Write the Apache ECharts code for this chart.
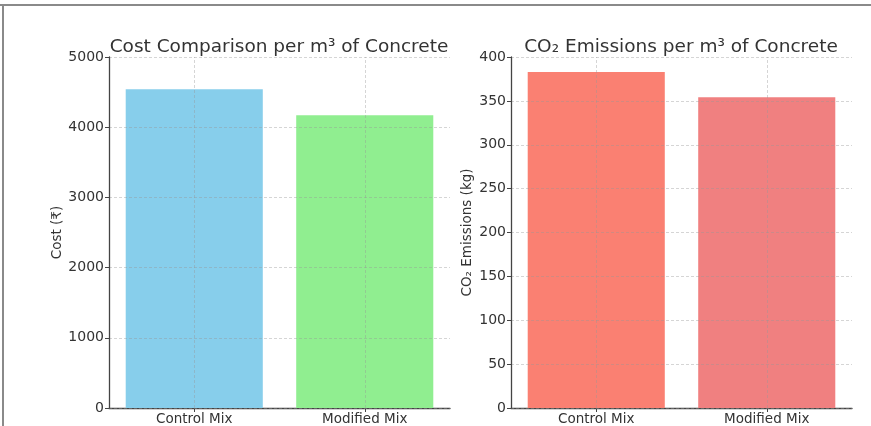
<!DOCTYPE html>
<html>
<head>
<meta charset="utf-8">
<script src="https://cdn.jsdelivr.net/npm/echarts@6/dist/echarts.min.js"></script>
<style>
  html, body { margin: 0; padding: 0; background: #fff; }
  #chart { width: 871px; height: 426px; }
</style>
</head>
<body>
<div id="chart"></div>
<script>
// Mix types compared in both panels
const mixes = ['Control Mix', 'Modified Mix'];
// Cost per cubic metre (₹)
const costValues = [4540, 4170];
// CO₂ emitted per cubic metre (kg)
const co2Values = [383, 354];
const costColors = ['#87CEEB', '#90EE90'];
const co2Colors = ['#FA8072', '#F08080'];

const font = 'DejaVu Sans, Verdana, sans-serif';
const textColor = '#333';

function yAxisDef(gridIndex, max, interval, name, gap) {
  return {
    type: 'value', gridIndex, min: 0, max, interval, z: 3,
    name, nameLocation: 'middle', nameGap: gap, nameRotate: 90,
    nameTextStyle: { fontFamily: font, fontSize: 13.5, color: textColor },
    axisLine: { show: true, lineStyle: { color: '#444', width: 1.3 } },
    axisTick: { show: true, length: 4, lineStyle: { color: '#444' } },
    axisLabel: { fontFamily: font, fontSize: 14, color: textColor, margin: 5,
      formatter: v => String(v) },
    splitLine: { show: true, lineStyle: { color: 'rgba(150,150,150,0.4)', type: [3, 2], width: 1 } }
  };
}

function xAxisDef(gridIndex) {
  return {
    type: 'category', gridIndex, data: mixes, boundaryGap: true,
    axisLine: { show: true, lineStyle: { color: '#444', width: 1.3 } },
    axisTick: { show: true, alignWithLabel: true, length: 4, lineStyle: { color: '#444' } },
    axisLabel: { fontFamily: font, fontSize: 13.5, color: textColor, margin: 4 },
    splitLine: { show: false }
  };
}

function barSeries(idx, values, colors) {
  return {
    type: 'bar', xAxisIndex: idx, yAxisIndex: idx,
    barWidth: '80.4%',
    data: values.map((v, i) => ({ value: v, itemStyle: { color: colors[i] } })),
    markLine: {
      silent: true, symbol: 'none', label: { show: false },
      lineStyle: { color: 'rgba(150,150,150,0.4)', type: [3, 2], width: 1 },
      data: mixes.map(m => ({ xAxis: m }))
    }
  };
}

const chart = echarts.init(document.getElementById('chart'), null, { renderer: 'canvas' });
chart.setOption({
  backgroundColor: '#fff',
  animation: false,
  title: [
    { text: 'Cost Comparison per m³ of Concrete', left: 274, top: 33, textAlign: 'center',
      textStyle: { fontFamily: font, fontSize: 18.5, fontWeight: 'normal', color: textColor } },
    { text: 'CO₂ Emissions per m³ of Concrete', left: 676, top: 33, textAlign: 'center',
      textStyle: { fontFamily: font, fontSize: 18.5, fontWeight: 'normal', color: textColor } }
  ],
  grid: [
    { left: 109, right: 421, top: 57, bottom: 18 },
    { left: 511, right: 19, top: 57, bottom: 18 }
  ],
  xAxis: [xAxisDef(0), xAxisDef(1)],
  yAxis: [
    yAxisDef(0, 5000, 1000, 'Cost (₹)', 44),
    yAxisDef(1, 400, 50, 'CO₂ Emissions (kg)', 37)
  ],
  series: [
    barSeries(0, costValues, costColors),
    barSeries(1, co2Values, co2Colors)
  ],
  graphic: [
    { type: 'line', shape: { x1: 0, y1: 5, x2: 871, y2: 5 }, style: { stroke: '#8a8a8a', lineWidth: 2 } },
    { type: 'line', shape: { x1: 3, y1: 5, x2: 3, y2: 426 }, style: { stroke: '#8a8a8a', lineWidth: 2 } }
  ]
});
</script>
</body>
</html>
